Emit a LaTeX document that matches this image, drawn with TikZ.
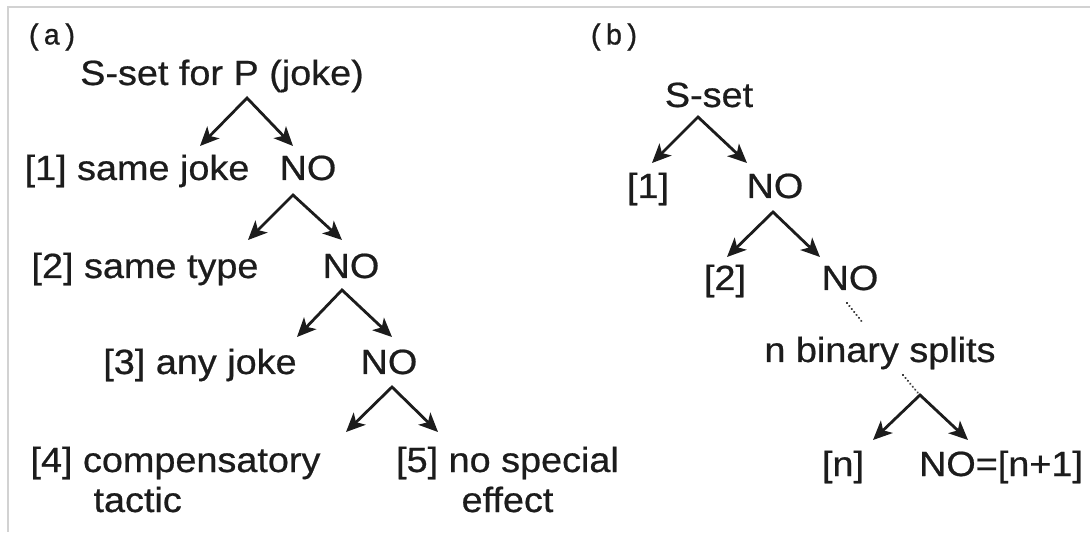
\documentclass[tikz,border=0pt]{standalone}
\usepackage{fontspec}
\setmainfont{Liberation Sans}[FakeStretch=1.08,FakeBold=0.6]
\newfontfamily\labfont{Liberation Mono}[FakeBold=0.8]
\usetikzlibrary{arrows.meta}
\definecolor{ink}{HTML}{1C1C1C}
\definecolor{frame}{HTML}{D2D2D2}
\begin{document}
\begin{tikzpicture}[x=1pt,y=-1pt,
  txt/.style={inner sep=0pt, anchor=base, text=ink, font=\fontsize{35}{40}\selectfont},
  lab/.style={inner sep=0pt, anchor=center, text=ink, font=\labfont\fontsize{29}{32}\selectfont},
  split/.style={draw=ink, line width=2.8pt, line join=miter,
    {Stealth[length=19pt,width=17pt,inset=5pt]}-{Stealth[length=19pt,width=17pt,inset=5pt]}},
  dots/.style={draw=ink!85, line width=2.4pt, line cap=round, dash pattern=on 0.01pt off 3.8pt}]
\useasboundingbox (0,0) rectangle (1090,534);
\fill[white] (0,0) rectangle (1090,534);
% frame
\draw[frame, line width=1.6pt] (1090,7) -- (8,7) -- (8,532);

% ---------- (a) ----------
\node[lab] (la) at (52,37) {(a)};
\node[txt] (a0) at (222,85) {S-set for P (joke)};
\node[txt] (a1) at (137,180) {[1] same joke};
\node[txt] (n1) at (308,180) {NO};
\node[txt] (a2) at (145,278) {[2] same type};
\node[txt] (n2) at (351,278) {NO};
\node[txt] (a3) at (200,374) {[3] any joke};
\node[txt] (n3) at (389,374) {NO};
\node[txt] (a4) at (175.5,472) {\begin{tabular}[t]{@{}l@{}}[4] compensatory\\\hspace*{63pt}tactic\end{tabular}};
\node[txt] (a5) at (507.5,472) {\begin{tabular}[t]{@{}c@{}}[5] no special\\effect\end{tabular}};

\coordinate (p0) at (247,98);  \coordinate (p0l) at (200,146); \coordinate (p0r) at (293,146);
\coordinate (p1) at (293,195); \coordinate (p1l) at (248,240); \coordinate (p1r) at (342,240);
\coordinate (p2) at (342,290); \coordinate (p2l) at (297,337); \coordinate (p2r) at (392,337);
\coordinate (p3) at (392,387); \coordinate (p3l) at (346,432); \coordinate (p3r) at (438,432);
\draw[split] (p0l) -- (p0) -- (p0r);
\draw[split] (p1l) -- (p1) -- (p1r);
\draw[split] (p2l) -- (p2) -- (p2r);
\draw[split] (p3l) -- (p3) -- (p3r);

% ---------- (b) ----------
\node[lab] (lb) at (614,37) {(b)};
\node[txt] (b0) at (709,107) {S-set};
\node[txt] (b1) at (648,198) {[1]};
\node[txt] (m1) at (775,198) {NO};
\node[txt] (b2) at (725,290) {[2]};
\node[txt] (m2) at (850,290) {NO};
\node[txt] (bs) at (880,362) {n binary splits};
\node[txt] (bn) at (843,476) {[n]};
\node[txt] (mn) at (1001,476) {NO=[n+1]};

\coordinate (q0) at (698,117); \coordinate (q0l) at (652,163); \coordinate (q0r) at (747,163);
\coordinate (q1) at (773,212); \coordinate (q1l) at (727,257); \coordinate (q1r) at (820,257);
\coordinate (q2) at (920,395); \coordinate (q2l) at (873,440); \coordinate (q2r) at (968,440);
\draw[split] (q0l) -- (q0) -- (q0r);
\draw[split] (q1l) -- (q1) -- (q1r);
\draw[split] (q2l) -- (q2) -- (q2r);

\coordinate (d1a) at (847,303); \coordinate (d1b) at (863,323);
\coordinate (d2a) at (903,375); \coordinate (d2b) at (918,393);
\draw[dots] (d1a) -- (d1b);
\draw[dots] (d2a) -- (d2b);
\end{tikzpicture}
\end{document}
